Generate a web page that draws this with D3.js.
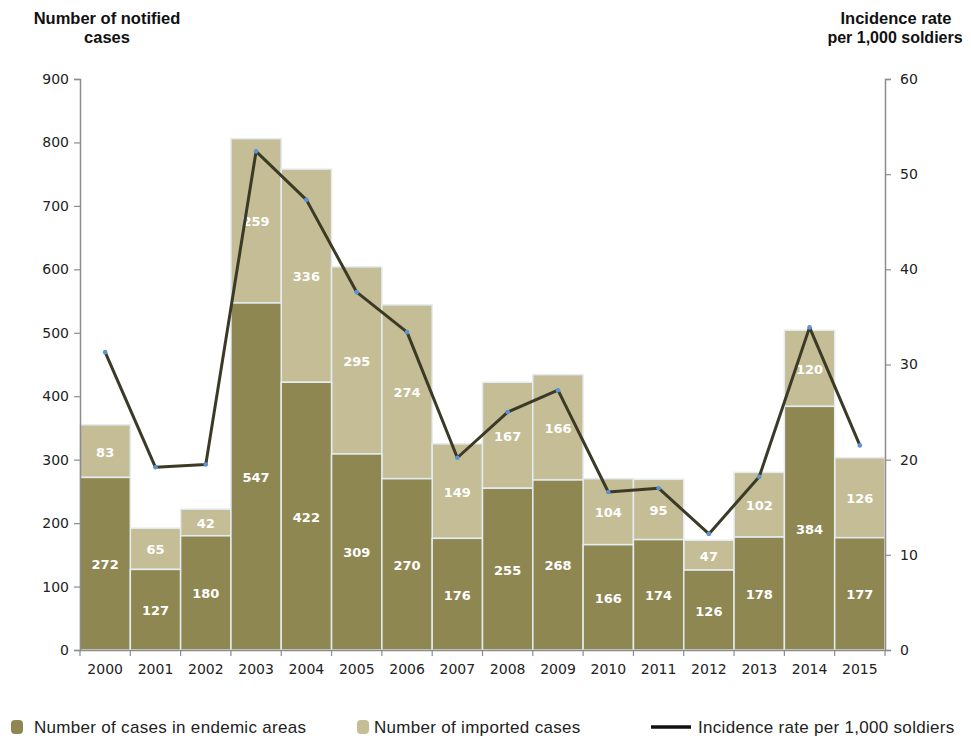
<!DOCTYPE html>
<html><head><meta charset="utf-8">
<script src="https://cdn.jsdelivr.net/npm/d3@7"></script>
<style>body{margin:0;background:#fff}svg{display:block}</style>
</head><body>
<svg id="c" width="971" height="740"></svg>
<script>
const years = ["2000","2001","2002","2003","2004","2005","2006","2007","2008","2009","2010","2011","2012","2013","2014","2015"];
const endemic = [272,127,180,547,422,309,270,176,255,268,166,174,126,178,384,177];
const imported = [83,65,42,259,336,295,274,149,167,166,104,95,47,102,120,126];
const incidence = [31.3,19.2,19.5,52.4,47.3,37.6,33.4,20.2,25.0,27.3,16.6,17.0,12.2,18.2,33.9,21.5];
const leftTicks = [0,100,200,300,400,500,600,700,800,900];
const rightTicks = [0,10,20,30,40,50,60];
const seriesNames = ["Number of cases in endemic areas","Number of imported cases","Incidence rate per 1,000 soldiers"];

const C_END = "#8f8752", C_IMP = "#c4bd96", C_LINE = "#3b3a26", C_DOT = "#5b93d3", C_AX = "#8c8c8c";
const svg = d3.select("#c");
const L = 80, R = 885, T = 79, B = 650;
const x = d3.scaleBand().domain(years).range([L, R]).padding(0);
const y = d3.scaleLinear().domain([0, 900]).range([B, T]);
const y2 = d3.scaleLinear().domain([0, 60]).range([B, T]);

const data = years.map((yr,i)=>({yr, e:endemic[i], m:imported[i], r:incidence[i]}));

// bars
const g = svg.append("g");
g.selectAll("rect.imp").data(data).join("rect")
  .attr("x", d=>x(d.yr)).attr("width", x.bandwidth())
  .attr("y", d=>y(d.e+d.m)).attr("height", d=>y(d.e)-y(d.e+d.m))
  .attr("fill", C_IMP).attr("stroke", "#e4ecf2").attr("stroke-width", 1.5);
g.selectAll("rect.end").data(data).join("rect")
  .attr("x", d=>x(d.yr)).attr("width", x.bandwidth())
  .attr("y", d=>y(d.e)).attr("height", d=>B - y(d.e))
  .attr("fill", C_END).attr("stroke", "#e4ecf2").attr("stroke-width", 1.5);

// labels
const lblStyle = s => s.attr("fill","#fff").attr("font-family","DejaVu Sans, Verdana, sans-serif")
  .attr("font-weight","bold").attr("font-size","13px").attr("text-anchor","middle").attr("dominant-baseline","central");
g.selectAll("text.e").data(data).join("text")
  .attr("x", d=>x(d.yr)+x.bandwidth()/2).attr("y", d=>(B+y(d.e))/2+1).text(d=>d.e).call(lblStyle);
g.selectAll("text.m").data(data).join("text")
  .attr("x", d=>x(d.yr)+x.bandwidth()/2).attr("y", d=>(y(d.e)+y(d.e+d.m))/2+1).text(d=>d.m).call(lblStyle);

// axes
const axL = svg.append("g").attr("transform",`translate(${L},0)`)
  .call(d3.axisLeft(y).tickValues(leftTicks).tickSize(6).tickPadding(5));
const axR = svg.append("g").attr("transform",`translate(${R},0)`)
  .call(d3.axisRight(y2).tickValues(rightTicks).tickSize(6).tickPadding(9));
const axB = svg.append("g").attr("transform",`translate(0,${B})`)
  .call(d3.axisBottom(x).tickSize(0).tickPadding(14));
[axL, axR, axB].forEach(a=>{
  a.selectAll("path.domain").attr("stroke", C_AX).attr("stroke-width", 1.5);
  a.selectAll(".tick line").attr("stroke", C_AX).attr("stroke-width", 1.2);
  a.selectAll("text").attr("font-family","DejaVu Sans, Verdana, sans-serif").attr("font-size","14px").attr("fill","#222");
});
axB.select("path.domain").attr("d", `M${L},0.5H${R}`);
// bottom ticks at category boundaries
svg.append("g").selectAll("line").data(years.concat(["end"])).join("line")
  .attr("x1", (d,i)=> i<years.length ? x(d) : R).attr("x2",(d,i)=> i<years.length ? x(d) : R)
  .attr("y1", B).attr("y2", B+6).attr("stroke", C_AX).attr("stroke-width", 1.2);

// line
const line = d3.line().x(d=>x(d.yr)+x.bandwidth()/2).y(d=>y2(d.r));
svg.append("path").datum(data).attr("d", line).attr("fill","none")
  .attr("stroke", C_LINE).attr("stroke-width", 3).attr("stroke-linejoin","round");
svg.append("g").selectAll("circle").data(data).join("circle")
  .attr("cx", d=>x(d.yr)+x.bandwidth()/2).attr("cy", d=>y2(d.r)).attr("r", 2.3).attr("fill", C_DOT);

// titles
const tStyle = s => s.attr("font-family","Liberation Sans, Arial, sans-serif").attr("font-weight","bold")
  .attr("font-size","16.5px").attr("fill","#111").attr("text-anchor","middle");
svg.append("text").attr("x",107).attr("y",24).text("Number of notified").call(tStyle);
svg.append("text").attr("x",107).attr("y",43).text("cases").call(tStyle);
svg.append("text").attr("x",896).attr("y",24).text("Incidence rate").call(tStyle);
svg.append("text").attr("x",895).attr("y",43).text("per 1,000 soldiers").call(tStyle).attr("font-size","16px");

// legend
const lg = svg.append("g").attr("font-family","Liberation Sans, Arial, sans-serif").attr("font-size","17px")
  .attr("letter-spacing","0.3px").attr("fill","#222");
lg.append("rect").attr("x",11).attr("y",720).attr("width",12).attr("height",14).attr("rx",4).attr("fill",C_END);
lg.append("text").attr("x",34).attr("y",733).text(seriesNames[0]);
lg.append("rect").attr("x",357).attr("y",720).attr("width",12).attr("height",14).attr("rx",4).attr("fill",C_IMP);
lg.append("text").attr("x",374).attr("y",733).text(seriesNames[1]);
lg.append("line").attr("x1",651).attr("x2",691).attr("y1",727).attr("y2",727).attr("stroke","#111").attr("stroke-width",3.5);
lg.append("text").attr("x",698).attr("y",733).text(seriesNames[2]);
</script>
</body></html>
